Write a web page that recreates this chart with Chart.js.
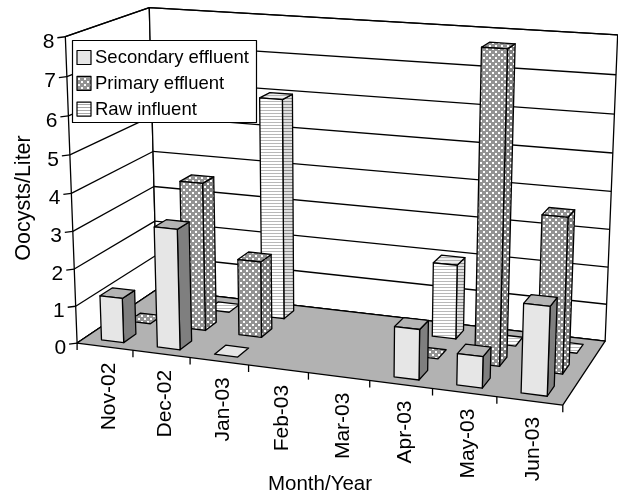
<!DOCTYPE html>
<html><head><meta charset="utf-8">
<script src="https://cdn.jsdelivr.net/npm/chart.js@4"></script>
<style>html,body{margin:0;padding:0;background:#fff}canvas{display:block}</style>
</head><body><div style="width:618px;height:498px"><canvas id="c" width="618" height="498"></canvas></div>
<script>
const months = ["Nov-02","Dec-02","Jan-03","Feb-03","Mar-03","Apr-03","May-03","Jun-03"];
const secondary = [1.2, 3.2, 0, null, null, 1.3, 0.8, 2.25];
const primary   = [0, 4, 2.05, null, null, 0, 8, 4];
const raw       = [null, 0, 6, null, null, 2, 0, 0];
const seriesNames = ["Secondary effluent","Primary effluent","Raw influent"];
const yTitle = "Oocysts/Liter", xTitle = "Month/Year";
const FONT = '"Liberation Sans", Arial, sans-serif';

// camera: world (category u 0..8, value v 0..8, depth w 0..3) -> picture
const anchors = [
 [0,0,0,78,343],[8,0,0,563,406],[8,0,3,605,340],[0,0,3,156,290],
 [0,8,0,65,37],[0,8,3,150,7],[8,8,3,617,35],[4,0,0,308,372],
 [0,4,0,71,193],[0,4,3,153,152],[8,4,3,612,192]
];
function solveCam(){
  const n=11,A=Array.from({length:n},()=>Array(n+1).fill(0));
  const add=(r,b)=>{for(let i=0;i<n;i++){for(let j=0;j<n;j++)A[i][j]+=r[i]*r[j];A[i][n]+=r[i]*b;}};
  for(const [X,Y,Z,x,y] of anchors){
    add([X,Y,Z,1,0,0,0,0,-x*X,-x*Y,-x*Z],x);
    add([0,0,0,0,X,Y,Z,1,-y*X,-y*Y,-y*Z],y);
  }
  for(let i=0;i<n;i++){
    let m=i;for(let k=i+1;k<n;k++)if(Math.abs(A[k][i])>Math.abs(A[m][i]))m=k;
    [A[i],A[m]]=[A[m],A[i]];
    for(let k=0;k<n;k++)if(k!==i){const f=A[k][i]/A[i][i];for(let j=i;j<=n;j++)A[k][j]-=f*A[i][j];}
  }
  return A.map((r,i)=>r[n]/r[i]);
}
const cam=solveCam();
function P(u,v,w){
  const d=cam[8]*u+cam[9]*v+cam[10]*w+1;
  return [(cam[0]*u+cam[1]*v+cam[2]*w+cam[3])/d,(cam[4]*u+cam[5]*v+cam[6]*w+cam[7])/d];
}
function tile(size,paint){
  const t=document.createElement('canvas');t.width=t.height=size;
  const g=t.getContext('2d');paint(g);return t;
}
function patterns(ctx){
  const dots=(bg)=>ctx.createPattern(tile(6,g=>{g.fillStyle=bg;g.fillRect(0,0,6,6);g.fillStyle='#fff';g.fillRect(0,0,2,2);g.fillRect(3,3,2,2);}),'repeat');
  const lines=(a,b)=>ctx.createPattern(tile(3,g=>{g.fillStyle=a;g.fillRect(0,0,3,3);g.fillStyle=b;g.fillRect(0,2,3,1);}),'repeat');
  return [
    {front:'#e6e6e6',side:'#7f7f7f',top:'#b4b4b4',swatch:'#e6e6e6'},
    {front:dots('#939393'),side:dots('#808080'),top:dots('#939393'),swatch:dots('#939393')},
    {front:lines('#ffffff','#b8b8b8'),side:lines('#e0e0e0','#8f8f8f'),top:lines('#eeeeee','#b0b0b0'),swatch:lines('#ffffff','#a8a8a8')}
  ];
}
function poly(ctx,pts,fill,stroke){
  ctx.beginPath();pts.forEach((p,i)=>i?ctx.lineTo(p[0],p[1]):ctx.moveTo(p[0],p[1]));ctx.closePath();
  if(fill){ctx.fillStyle=fill;ctx.fill();}
  if(stroke!==false){ctx.strokeStyle='#000';ctx.lineWidth=1.3;ctx.lineJoin='round';ctx.stroke();}
}
function seg(ctx,a,b,lw){ctx.beginPath();ctx.moveTo(a[0],a[1]);ctx.lineTo(b[0],b[1]);ctx.strokeStyle='#000';ctx.lineWidth=lw||1.3;ctx.stroke();}

const scene={
 id:'scene',
 beforeDatasetsDraw(chart){
  const ctx=chart.ctx,xs=chart.scales.x,ys=chart.scales.y;
  const U=j=>(xs.getPixelForValue(j)-xs.left)/xs.width*8;
  const V=val=>(ys.bottom-ys.getPixelForValue(val))/ys.height*8;
  const pats=patterns(ctx);
  ctx.save();
  // walls
  poly(ctx,[P(0,0,0),P(0,8,0),P(0,8,3),P(0,0,3)],'#fff');
  poly(ctx,[P(0,0,3),P(0,8,3),P(8,8,3),P(8,0,3)],'#fff');
  // gridlines + ticks + tick labels
  ys.ticks.forEach(t=>{
    const v=V(t.value);
    seg(ctx,P(0,v,0),P(0,v,3));seg(ctx,P(0,v,3),P(8,v,3));
    const p=P(0,v,0);seg(ctx,p,[p[0]-8,p[1]+1]);
    ctx.font='21px '+FONT;ctx.fillStyle='#000';ctx.textAlign='right';ctx.textBaseline='middle';
    ctx.fillText(String(t.value),p[0]-11,p[1]+5);
  });
  // floor
  poly(ctx,[P(0,0,0),P(8,0,0),P(8,0,3),P(0,0,3)],'#b2b2b2');
  // category ticks and labels
  for(let i=0;i<=8;i++){const p=P(i,0,0);seg(ctx,p,[p[0],p[1]+7]);}
  xs.getLabels().forEach((lab,j)=>{
    const p=P(U(j),0,0);
    ctx.save();ctx.translate(p[0]+4,p[1]+16);ctx.rotate(-Math.PI/2);
    ctx.font='21px '+FONT;ctx.fillStyle='#000';ctx.textAlign='right';ctx.textBaseline='middle';
    ctx.fillText(lab,0,0);ctx.restore();
  });
  // bars, back row first
  const halfW=0.2,halfD=0.225;
  for(let d=chart.data.datasets.length-1;d>=0;d--){
    const data=chart.data.datasets[d].data,c=d+0.5,f=pats[d];
    for(let j=data.length-1;j>=0;j--){
      if(data[j]===null)continue;
      const u0=U(j)-halfW,u1=U(j)+halfW,w0=c-halfD,w1=c+halfD,h=V(data[j]);
      if(h>0){
        poly(ctx,[P(u1,0,w0),P(u1,h,w0),P(u1,h,w1),P(u1,0,w1)],f.side);
      }
      poly(ctx,[P(u0,h,w0),P(u1,h,w0),P(u1,h,w1),P(u0,h,w1)],h>0?f.top:f.front);
      if(h>0){
        poly(ctx,[P(u0,0,w0),P(u1,0,w0),P(u1,h,w0),P(u0,h,w0)],f.front);
      }
    }
  }
  // axis titles
  ctx.fillStyle='#000';ctx.font='20.5px '+FONT;ctx.textAlign='center';ctx.textBaseline='middle';
  ctx.fillText(xTitle,320,484);
  ctx.save();ctx.translate(24,198);ctx.rotate(-Math.PI/2);ctx.font='21.5px '+FONT;ctx.fillText(yTitle,0,0);ctx.restore();
  // legend
  ctx.fillStyle='#fff';ctx.strokeStyle='#000';ctx.lineWidth=1.2;
  ctx.fillRect(72.5,40.5,184,82);ctx.strokeRect(72.5,40.5,184,82);
  chart.data.datasets.forEach((ds,i)=>{
    const y=50.5+i*25.8;
    ctx.fillStyle=pats[i].swatch;ctx.fillRect(77,y,14,14);
    ctx.strokeStyle='#000';ctx.lineWidth=1.2;ctx.strokeRect(77,y,14,14);
    ctx.fillStyle='#000';ctx.font='18.5px '+FONT;ctx.textAlign='left';ctx.textBaseline='middle';
    ctx.fillText(ds.label,95,y+7.5);
  });
  ctx.restore();
  return false;
 }
};
new Chart(document.getElementById('c'),{
  type:'bar',
  data:{labels:months,datasets:[
    {label:seriesNames[0],data:secondary},
    {label:seriesNames[1],data:primary},
    {label:seriesNames[2],data:raw}
  ]},
  options:{
    responsive:false,animation:false,
    layout:{padding:0},
    plugins:{legend:{display:false},tooltip:{enabled:false}},
    scales:{
      x:{type:'category',offset:true,display:false},
      y:{type:'linear',min:0,max:8,ticks:{stepSize:1},display:false}
    }
  },
  plugins:[scene]
});
</script></body></html>
